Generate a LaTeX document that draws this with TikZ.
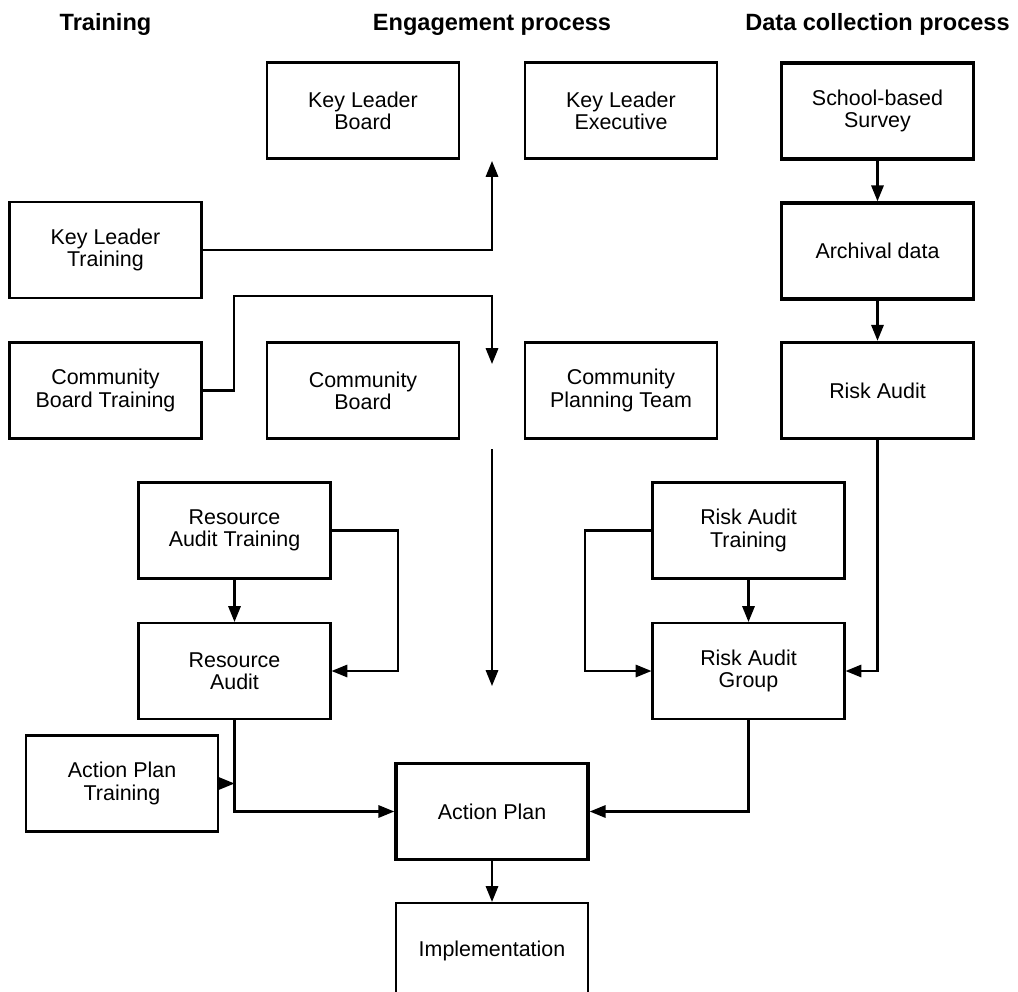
\documentclass[tikz,border=0pt]{standalone}
\usepackage{fontspec}
\setmainfont{Liberation Sans}
\usetikzlibrary{arrows.meta}

\begin{document}
\begin{tikzpicture}[x=0.02cm, y=-0.02cm,
  box/.style={draw, line width=1.2pt, minimum width=3.84cm, minimum height=1.92cm,
    inner sep=0pt, align=center, font=\fontsize{12.2}{12.6}\selectfont},
  keybox/.style={box, line width=2pt},
  head/.style={font=\fontsize{13.4}{16}\selectfont\bfseries, anchor=base},
  arr/.style={line width=1.2pt, -{Triangle[length=9pt, width=7pt]}}]
\useasboundingbox (0, 0) rectangle (1018, 991);

% column heads
\node[head] (htrain) at (105.5, 30) {Training};
\node[head] (hengage) at (492, 30) {Engagement process};
\node[head] (hdata) at (877.5, 30) {Data collection process};

% engagement process
\node[box] (klb) at (363, 110.5) {Key Leader\\Board};
\node[box] (kle) at (621, 110.5) {Key Leader\\Executive};
\node[box] (cb) at (363, 390.5) {Community\\Board};
\node[box] (cpt) at (621, 390.5) {Community\\Planning Team};

% training
\node[box] (klt) at (105.5, 250) {Key Leader\\Training};
\node[box] (cbt) at (105.5, 390.5) {Community\\Board Training};
\node[box] (rat) at (234.5, 530.5) {Resource\\Audit Training};
\node[box] (ra) at (234.5, 671) {Resource\\Audit};
\node[box] (apt) at (122, 783.5) {Action Plan\\Training};

% data collection
\node[keybox] (survey) at (877.5, 111) {School-based\\Survey};
\node[keybox] (archive) at (877.5, 251) {Archival data};
\node[keybox] (riska) at (877.5, 390.5) {Risk Audit};
\node[box] (riskat) at (748.5, 530.5) {Risk Audit\\Training};
\node[box] (rag) at (748.5, 671) {Risk Audit\\Group};

% plan
\node[keybox] (ap) at (492, 811.5) {Action Plan};
\node[box] (impl) at (492, 951) {Implementation};

\coordinate (klup) at (492, 161);
\coordinate (cbdown) at (492, 364);
\coordinate (engtop) at (492, 449);
\coordinate (engbot) at (492, 686);

\draw[arr] (klt.east) -| (klup);
\draw[arr] (cbt.east) -| (234, 296) -| (cbdown);
\draw[arr] (engtop) -- (engbot);

\draw[arr] (rat.south) -- (ra.north);
\draw[arr] (rat.east) -| (398, 671) -- (ra.east);
\draw[arr] (apt.east) -- (apt.east -| ra.south);
\draw[arr] (ra.south) |- (ap.west);

\draw[arr] (survey.south) -- (archive.north);
\draw[arr] (archive.south) -- (riska.north);
\draw[arr] (riska.south) |- (rag.east);
\draw[arr] (riskat.south) -- (rag.north);
\draw[arr] (riskat.west) -| (585, 671) -- (rag.west);
\draw[arr] (rag.south) |- (ap.east);

\draw[arr] (ap.south) -- (impl.north);

\end{tikzpicture}
\end{document}
